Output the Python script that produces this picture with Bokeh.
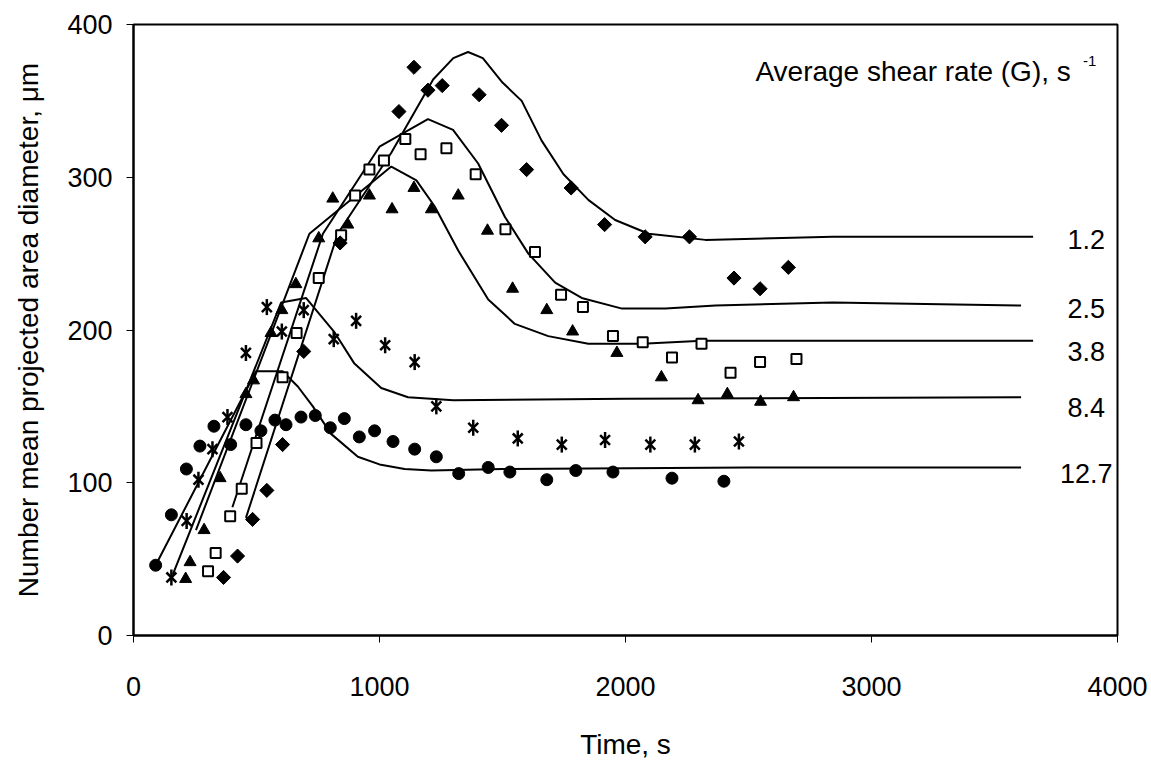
import math
from bokeh.plotting import figure
from bokeh.models import Range1d, FixedTicker, Label, ColumnDataSource
from bokeh.core.properties import value
from bokeh.embed import file_html
from bokeh.resources import INLINE

# ---- measured data (time s, diameter um) ----
g127_t = [90, 154, 215, 270, 327, 395, 457, 518, 575, 620, 681, 739, 800, 857, 918, 980, 1055, 1143, 1231, 1322, 1442, 1530, 1680, 1798, 1949, 2189, 2400]
g127_d = [46, 79, 109, 124, 137, 125, 138, 134, 141, 138, 143, 144, 136, 142, 130, 134, 127, 122, 117, 106, 110, 107, 102, 108, 107, 103, 101]

g84_t = [154, 216, 264, 321, 382, 457, 542, 603, 692, 814, 905, 1023, 1143, 1231, 1381, 1562, 1741, 1917, 2101, 2282, 2461]
g84_d = [38, 75, 102, 122, 143, 185, 215, 199, 213, 194, 206, 190, 179, 150, 136, 129, 125, 128, 125, 125, 127]

g38_t = [212, 230, 287, 352, 457, 488, 559, 603, 660, 753, 810, 871, 959, 1051, 1140, 1211, 1320, 1439, 1541, 1680, 1785, 1965, 2146, 2295, 2414, 2549, 2683]
g38_d = [37, 48, 69, 103, 158, 167, 198, 213, 230, 260, 286, 269, 288, 279, 293, 279, 288, 265, 227, 213, 199, 185, 169, 154, 158, 153, 156]

g25_t = [303, 334, 393, 440, 500, 606, 663, 753, 844, 901, 959, 1018, 1105, 1167, 1272, 1391, 1512, 1632, 1738, 1827, 1949, 2070, 2189, 2309, 2427, 2547, 2695]
g25_d = [42, 54, 78, 96, 126, 169, 198, 234, 262, 288, 305, 311, 325, 315, 319, 302, 266, 251, 223, 215, 196, 192, 182, 191, 172, 179, 181]

g12_t = [366, 423, 484, 542, 606, 692, 840, 1079, 1140, 1197, 1255, 1405, 1496, 1598, 1779, 1915, 2080, 2260, 2441, 2547, 2662]
g12_d = [38, 52, 76, 95, 125, 186, 257, 343, 372, 357, 360, 354, 334, 305, 293, 269, 261, 261, 234, 227, 241]

# ---- model curves ----
m127_t = [90, 498, 606, 668, 729, 803, 912, 1000, 1102, 1211, 1500, 2500, 3608]
m127_d = [46, 173, 173, 163, 150, 132, 117, 112, 109, 108, 109, 110, 110]

m84_t = [160, 600, 701, 815, 898, 1007, 1116, 1300, 2000, 3608]
m84_d = [40, 218, 221, 199, 178, 162, 156, 154, 155, 156]

m38_t = [254, 715, 1048, 1150, 1224, 1320, 1442, 1550, 1686, 1849, 2067, 2312, 3657]
m38_d = [69, 263, 307, 298, 281, 252, 220, 204, 196, 191, 191, 193, 193]

m25_t = [402, 770, 1000, 1197, 1299, 1401, 1510, 1605, 1714, 1822, 1986, 2162, 2366, 2842, 3608]
m25_d = [84, 263, 320, 338, 331, 309, 274, 250, 231, 221, 214, 214, 216, 218, 216]

m12_t = [457, 830, 1048, 1218, 1300, 1360, 1420, 1500, 1578, 1659, 1748, 1850, 1958, 2094, 2325, 2842, 3657]
m12_d = [77, 263, 316, 364, 378, 382, 378, 362, 350, 324, 302, 285, 272, 263, 259, 261, 261]

rate_labels = ["1.2", "2.5", "3.8", "8.4", "12.7"]
rate_label_d = [259, 214, 186, 149, 106]
x_ticks = [0, 1000, 2000, 3000, 4000]
y_ticks = [0, 100, 200, 300, 400]

FONT = "Liberation Sans"

p = figure(width=1151, height=767, output_backend="svg", toolbar_location=None,
           x_range=Range1d(0, 4000), y_range=Range1d(0, 400),
           min_border_left=133, min_border_right=34, min_border_top=24, min_border_bottom=132)
p.grid.visible = False
p.background_fill_color = "white"
p.border_fill_color = "white"
p.outline_line_color = "black"
p.outline_line_width = 2

for ax in (p.xaxis[0], p.yaxis[0]):
    ax.axis_line_width = 2
    ax.axis_line_color = "black"
    ax.major_tick_out = 7
    ax.major_tick_in = 0
    ax.minor_tick_line_color = None
    ax.major_tick_line_width = 1
    ax.major_label_text_font = FONT
    ax.major_label_text_font_size = "27px"
    ax.major_label_text_color = "black"
    ax.axis_label_text_font = FONT
    ax.axis_label_text_font_size = "28px"
    ax.axis_label_text_font_style = "normal"
    ax.axis_label_text_color = "black"

p.xaxis.ticker = FixedTicker(ticks=x_ticks)
p.yaxis.ticker = FixedTicker(ticks=y_ticks)
p.xaxis.axis_label = "Time, s"
p.yaxis.axis_label = "Number mean projected area diameter, μm"
p.xaxis.major_label_standoff = 34
p.xaxis.axis_label_standoff = 30
p.yaxis.major_label_standoff = 14
p.yaxis.axis_label_standoff = 20

# model lines
for t, d in [(m127_t, m127_d), (m84_t, m84_d), (m38_t, m38_d), (m25_t, m25_d), (m12_t, m12_d)]:
    p.line(t, d, line_color="black", line_width=2)

# data markers
p.scatter(g127_t, g127_d, marker="circle", size=12, fill_color="black", line_color="black")
p.scatter(g84_t, g84_d, marker="x", size=14, line_color="black", line_width=2.5)
p.scatter(g84_t, g84_d, marker="dash", size=16, angle=math.pi / 2, line_color="black", line_width=2.5)
p.scatter(g38_t, g38_d, marker="triangle", size=12, fill_color="black", line_color="black")
p.scatter(g25_t, g25_d, marker="square", size=10, fill_color="white", line_color="black", line_width=2)
p.scatter(g12_t, g12_d, marker="square", size=10, angle=math.pi / 4, fill_color="black", line_color="black")

# rate labels at line ends
src = ColumnDataSource(dict(x=[3873] * len(rate_labels), y=rate_label_d, t=rate_labels))
p.text(x="x", y="y", text="t", source=src, text_font=value(FONT), text_font_size="27px",
       text_align="center", text_baseline="middle", text_color="black")

p.add_layout(Label(x=2528, y=369, text="Average shear rate (G), s", text_font=FONT,
                   text_font_size="28px", text_baseline="middle", text_align="left",
                   text_color="black"))
p.add_layout(Label(x=3860, y=376, text="-1", text_font=FONT,
                   text_font_size="15px", text_baseline="middle", text_align="left",
                   text_color="black"))

open("out.html", "w").write(file_html(p, INLINE))
